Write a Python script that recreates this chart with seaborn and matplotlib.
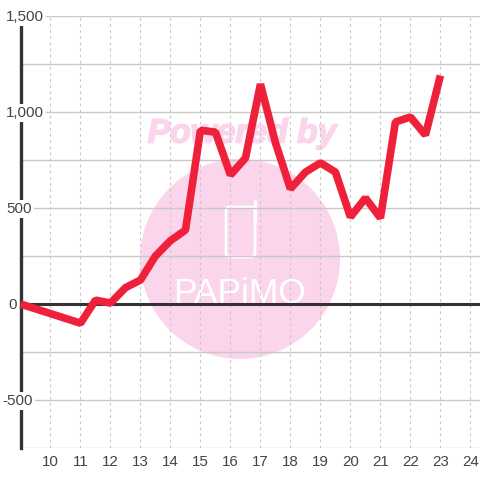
# plot.py
# Hourly line chart over a pink watermark.

import matplotlib
matplotlib.use("Agg")
import matplotlib.pyplot as plt
import matplotlib.patheffects as pe
import pandas as pd
import seaborn as sns
from matplotlib.patches import Circle, FancyBboxPatch
from matplotlib.transforms import blended_transform_factory

hours = [9, 9.5, 10, 10.5, 11, 11.5, 12, 12.5, 13, 13.5, 14, 14.5, 15, 15.5, 16, 16.5,
         17, 17.5, 18, 18.5, 19, 19.5, 20, 20.5, 21, 21.5, 22, 22.5, 23]
values = [0, -25, -50, -75, -100, 20, 5, 85, 125, 250, 330, 385, 905, 895, 672, 760,
          1145, 840, 600, 687, 735, 687, 453, 552, 448, 948, 974, 880, 1190]
x_ticks = [10, 11, 12, 13, 14, 15, 16, 17, 18, 19, 20, 21, 22, 23, 24]
y_grid = [-750, -500, -250, 0, 250, 500, 750, 1000, 1250, 1500]
y_labels = {1500: "1,500", 1000: "1,000", 500: "500", 0: "0", -500: "-500"}
label_left_px = {1500: 6, 1000: 6, 500: 6, 0: 8, -500: 2}

LINE_RED = "#EF2039"
DARK = "#333333"
GRID = "#C8C8C8"
PINK = "#FBD5EC"
PX = 1 / 480

sns.set_style("white")
plt.rcParams["font.family"] = ["Liberation Sans", "DejaVu Sans"]

fig = plt.figure(figsize=(4.8, 4.8), dpi=100, facecolor="white")
ax = fig.add_axes([20.5 * PX, 32 * PX, (480 - 20.5) * PX, 432 * PX])
ax.patch.set_visible(False)

# ── Watermark, drawn behind the axes ───────────────────────────────────────────

fig.add_artist(Circle((240 * PX, 1 - 259 * PX), 100 * PX, transform=fig.transFigure,
                      facecolor=PINK, edgecolor="none", zorder=-2))
fig.text(242 * PX, 1 - 134 * PX, "Powered by", color=PINK, fontsize=24.2, weight="bold",
         style="italic", ha="center", va="center", family="Liberation Sans", zorder=-2,
         path_effects=[pe.withStroke(linewidth=1.2, foreground=PINK)])
fig.add_artist(FancyBboxPatch((226 * PX, 1 - 257 * PX), 29 * PX, 50 * PX,
                              boxstyle=f"round,pad=0,rounding_size={4 * PX}",
                              transform=fig.transFigure, facecolor="none",
                              edgecolor="white", linewidth=2, zorder=-1))
fig.add_artist(plt.Line2D([255 * PX, 255 * PX], [1 - 222 * PX, 1 - 201 * PX],
                          transform=fig.transFigure, color="white", linewidth=2.4,
                          solid_capstyle="round", zorder=-1))
fig.text(240 * PX, 1 - 303 * PX, "PAPiMO", color="white", fontsize=25.5,
         family="Liberation Sans", ha="center", va="baseline", zorder=-1)

# ── Axes ───────────────────────────────────────────────────────────────────────

ax.set_xlim(9, 24.32)
ax.set_ylim(-750, 1500)
ax.set_xticks(x_ticks)
ax.set_yticks(y_grid)
ax.set_yticklabels([])
ax.tick_params(length=0, pad=5, labelsize=10.9, labelcolor="#444444")
ax.grid(axis="y", color=GRID, linewidth=1, linestyle="-")
ax.grid(axis="x", color=GRID, linewidth=0.8, linestyle=(0, (2.5, 3)))
ax.set_axisbelow(True)
for side in ["top", "right", "bottom"]:
    ax.spines[side].set_visible(False)
ax.spines["left"].set_color(DARK)
ax.spines["left"].set_linewidth(2.4)
ax.axhline(0, color=DARK, linewidth=2.2, zorder=1.5)

# ── Series ─────────────────────────────────────────────────────────────────────

df = pd.DataFrame({"hour": hours, "value": values})
sns.lineplot(data=df, x="hour", y="value", ax=ax, color=LINE_RED, linewidth=5.5,
             estimator=None, solid_capstyle="butt", solid_joinstyle="bevel",
             zorder=3, clip_on=False)
ax.set_xlabel("")
ax.set_ylabel("")

# ── Y labels sit on the spine with a white box ─────────────────────────────────

label_tf = blended_transform_factory(fig.transFigure, ax.transData)
for val, text in y_labels.items():
    ax.annotate(text, xy=(label_left_px[val] * PX, val), xycoords=label_tf,
                xytext=(0, -3.7), textcoords="offset points", ha="left", va="baseline",
                fontsize=10.9, color="#444444", zorder=2.8, annotation_clip=False,
                bbox=dict(facecolor="white", edgecolor="none", pad=1.5))

fig.savefig("out.png", dpi=100)
